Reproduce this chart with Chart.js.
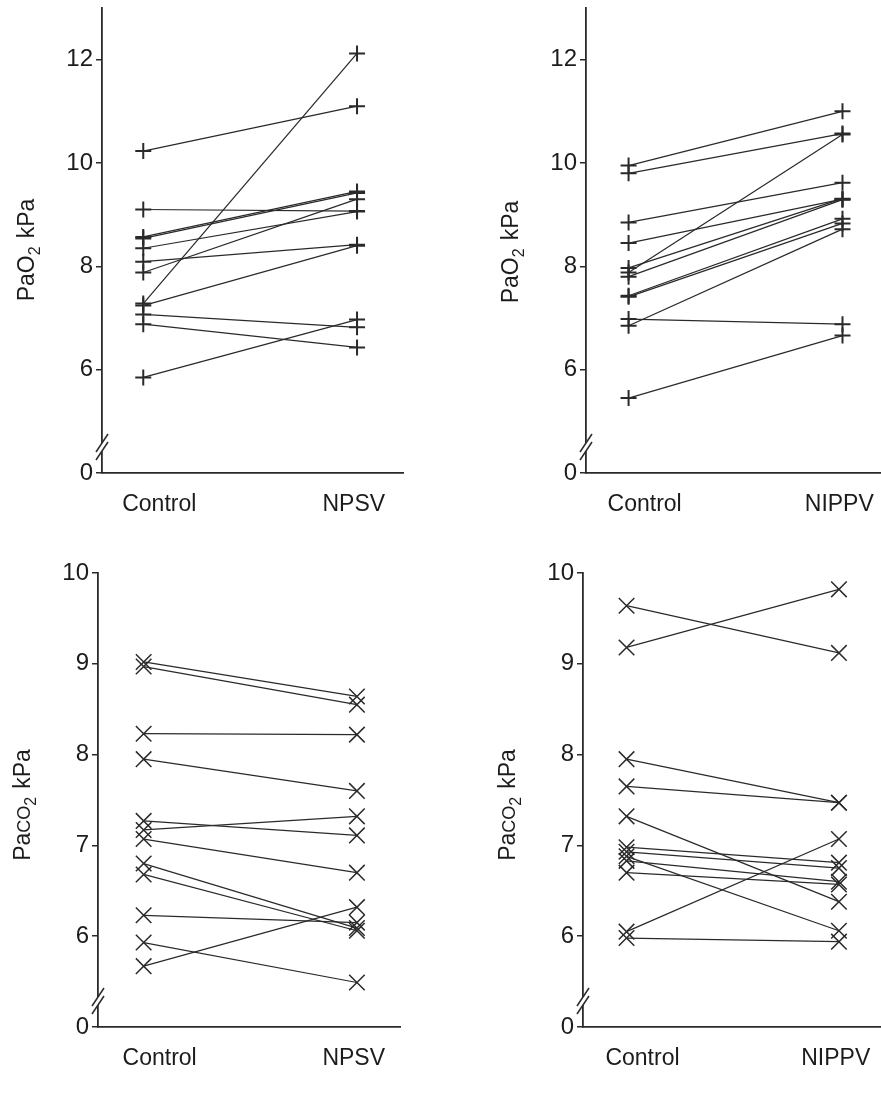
<!DOCTYPE html>
<html>
<head>
<meta charset="utf-8">
<script src="https://cdn.jsdelivr.net/npm/chart.js@4.4.1/dist/chart.umd.min.js"></script>
<style>
  html, body { margin: 0; padding: 0; background: #fff; }
  #wrap { position: relative; width: 881px; height: 1097px; }
  #wrap canvas { position: absolute; }
</style>
</head>
<body>
<div id="wrap">
  <canvas id="pao2Npsv" width="440" height="540" style="left:0;top:0"></canvas>
  <canvas id="pao2Nippv" width="441" height="540" style="left:440px;top:0"></canvas>
  <canvas id="paco2Npsv" width="440" height="557" style="left:0;top:540px"></canvas>
  <canvas id="paco2Nippv" width="441" height="557" style="left:440px;top:540px"></canvas>
</div>
<script>
// groups along the x axis
const npsvGroups = ['Control', 'NPSV'];
const nippvGroups = ['Control', 'NIPPV'];

// PaO2 in kPa, one entry per patient (control, then on ventilation)
const pao2NpsvControl = [10.23, 7.28, 9.10, 8.57, 8.54, 8.35, 8.09, 7.88, 7.24, 7.07, 6.88, 5.85];
const pao2NpsvTreated = [11.10, 12.12, 9.07, 9.45, 9.42, 9.06, 8.42, 9.30, 8.40, 6.82, 6.43, 6.97];

const pao2NippvControl = [9.95, 9.80, 8.85, 8.45, 7.97, 7.88, 7.80, 7.43, 7.41, 6.98, 6.85, 5.45];
const pao2NippvTreated = [11.00, 10.57, 9.62, 9.30, 9.31, 10.55, 9.29, 8.92, 8.83, 6.88, 8.72, 6.66];

// PaCO2 in kPa
const paco2NpsvControl = [9.02, 8.97, 8.23, 7.95, 7.27, 7.17, 7.07, 6.80, 6.68, 6.23, 5.93, 5.67];
const paco2NpsvTreated = [8.64, 8.55, 8.22, 7.60, 7.11, 7.32, 6.70, 6.09, 6.06, 6.15, 5.49, 6.32];

const paco2NippvControl = [9.64, 9.18, 7.95, 7.65, 7.32, 6.05, 5.98, 6.98, 6.93, 6.88, 6.83, 6.70];
const paco2NippvTreated = [9.12, 9.82, 7.47, 7.47, 6.38, 7.07, 5.94, 6.81, 6.75, 6.06, 6.60, 6.57];

// y ticks; the lowest tick sits below the axis break and reads 0
const pao2Ticks = [4, 6, 8, 10, 12];
const pao2TickLabels = ['0', '6', '8', '10', '12'];
const paco2Ticks = [5, 6, 7, 8, 9, 10];
const paco2TickLabels = ['0', '6', '7', '8', '9', '10'];

const INK = '#2a2a2a';
const TEXT = '#1c1c1c';
const FONT = "'Liberation Sans', Arial, sans-serif";

// axis break marks and the rotated y title (with subscript)
const decor = {
    id: 'decor',
    afterDraw(chart, args, opts) {
        const ctx = chart.ctx;
        const area = chart.chartArea;
        const ax = area.left;
        const by = area.bottom - 26;

        ctx.save();
        ctx.fillStyle = '#fff';
        ctx.fillRect(ax - 3, by - 4, 6, 8);
        ctx.strokeStyle = INK;
        ctx.lineWidth = 1.5;
        [-4, 4].forEach(off => {
            ctx.beginPath();
            ctx.moveTo(ax - 6, by + off + 9);
            ctx.lineTo(ax + 6, by + off - 9);
            ctx.stroke();
        });

        // title
        const parts = opts.title;
        const fontFor = p => (p.sub ? 16 : p.small ? 18 : 23) + 'px ' + FONT;
        let total = 0;
        parts.forEach(p => {
            ctx.font = fontFor(p);
            p.w = ctx.measureText(p.t).width + (p.gap || 0);
            total += p.w;
        });
        ctx.translate(ax - 68, opts.titleY);
        ctx.rotate(-Math.PI / 2);
        ctx.fillStyle = TEXT;
        ctx.textBaseline = 'alphabetic';
        ctx.textAlign = 'left';
        let x = -total / 2;
        parts.forEach(p => {
            ctx.font = fontFor(p);
            ctx.fillText(p.t, x + (p.gap || 0), p.sub ? 6 : 0);
            x += p.w;
        });
        ctx.restore();
    }
};

function makePanel(id, groups, before, after, cfg) {
    const datasets = before.map((b, i) => ({
        data: [{x: 0, y: b}, {x: 1, y: after[i]}],
        showLine: true,
        borderColor: INK,
        borderWidth: 1.25,
        pointStyle: cfg.marker,
        pointRadius: cfg.markerSize,
        pointHoverRadius: cfg.markerSize,
        pointBorderColor: INK,
        pointBorderWidth: cfg.markerWidth,
        pointBackgroundColor: INK
    }));

    const canvas = document.getElementById(id);

    new Chart(canvas, {
        type: 'scatter',
        data: { datasets: datasets },
        plugins: [decor],
        options: {
            responsive: false,
            animation: false,
            events: [],
            layout: {
                autoPadding: false,
                padding: { left: 0, top: cfg.top, right: cfg.right, bottom: 0 }
            },
            plugins: {
                legend: { display: false },
                tooltip: { enabled: false },
                decor: { title: cfg.title, titleY: cfg.titleY }
            },
            scales: {
                x: {
                    type: 'linear',
                    min: cfg.xMin,
                    max: cfg.xMax,
                    afterBuildTicks: s => { s.ticks = [0.075, 0.985].map(v => ({value: v})); },
                    afterFit: s => { s.height = cfg.xHeight; s.paddingLeft = 0; s.paddingRight = 0; },
                    grid: { display: false },
                    border: { display: true, color: INK, width: 1.8 },
                    ticks: {
                        autoSkip: false,
                        maxRotation: 0,
                        padding: 10,
                        color: TEXT,
                        font: { family: FONT, size: 23 },
                        callback: (v, i) => groups[i]
                    }
                },
                y: {
                    min: cfg.yMin,
                    max: cfg.yMax,
                    afterBuildTicks: s => { s.ticks = cfg.ticks.map(v => ({value: v})); },
                    afterFit: s => { s.width = cfg.axisLeft; s.paddingTop = 0; s.paddingBottom = 0; },
                    grid: {
                        display: true,
                        drawOnChartArea: false,
                        drawTicks: true,
                        tickLength: 6,
                        color: INK,
                        lineWidth: 1.5
                    },
                    border: { display: true, color: INK, width: 1.8 },
                    ticks: {
                        padding: 3,
                        color: TEXT,
                        font: { family: FONT, size: 24 },
                        callback: (v, i) => cfg.tickLabels[i]
                    }
                }
            }
        }
    });
}

const pao2Title = [{t: 'PaO'}, {t: '2', sub: true}, {t: 'kPa', gap: 8}];
const paco2Title = [{t: 'Pa'}, {t: 'CO', small: true}, {t: '2', sub: true}, {t: 'kPa', gap: 8}];

const crossCfg = { marker: 'cross', markerSize: 8, markerWidth: 2 };
const xCfg = { marker: 'crossRot', markerSize: 11, markerWidth: 1.5 };

makePanel('pao2Npsv', npsvGroups, pao2NpsvControl, pao2NpsvTreated, Object.assign({
    top: 8, right: 37, axisLeft: 102, xHeight: 67, xMin: -0.193, xMax: 1.215,
    yMin: 4, yMax: 13, ticks: pao2Ticks, tickLabels: pao2TickLabels,
    title: pao2Title, titleY: 250
}, crossCfg));

makePanel('pao2Nippv', nippvGroups, pao2NippvControl, pao2NippvTreated, Object.assign({
    top: 8, right: 0, axisLeft: 146, xHeight: 67, xMin: -0.199, xMax: 1.18,
    yMin: 4, yMax: 13, ticks: pao2Ticks, tickLabels: pao2TickLabels,
    title: pao2Title, titleY: 252
}, crossCfg));

makePanel('paco2Npsv', npsvGroups, paco2NpsvControl, paco2NpsvTreated, Object.assign({
    top: 33, right: 40, axisLeft: 98, xHeight: 70, xMin: -0.214, xMax: 1.202,
    yMin: 5, yMax: 10, ticks: paco2Ticks, tickLabels: paco2TickLabels,
    title: paco2Title, titleY: 265
}, xCfg));

makePanel('paco2Nippv', nippvGroups, paco2NippvControl, paco2NippvTreated, Object.assign({
    top: 33, right: 0, axisLeft: 143, xHeight: 70, xMin: -0.205, xMax: 1.198,
    yMin: 5, yMax: 10, ticks: paco2Ticks, tickLabels: paco2TickLabels,
    title: paco2Title, titleY: 265
}, xCfg));
</script>
</body>
</html>
